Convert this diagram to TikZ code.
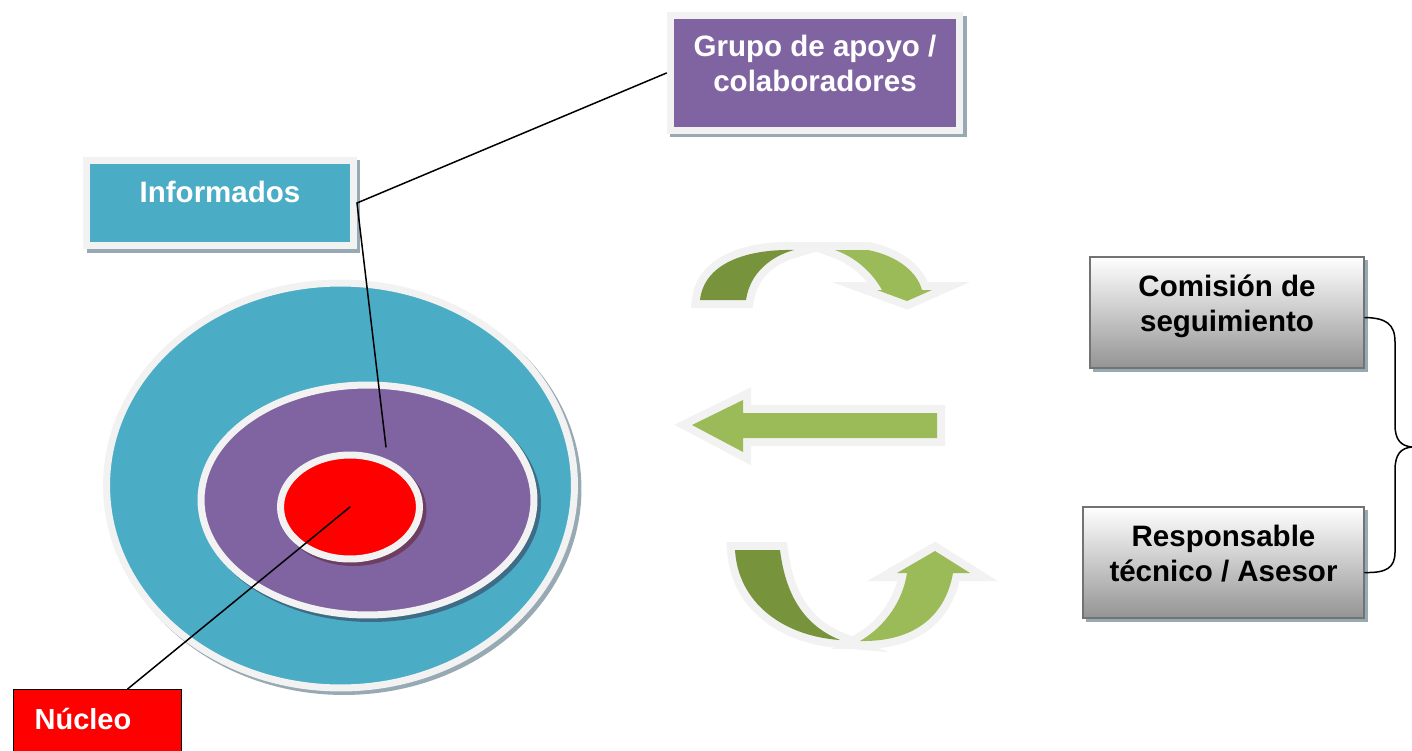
\documentclass[tikz,border=0pt]{standalone}
\usepackage{fontspec}
\setmainfont{Liberation Sans}
\usetikzlibrary{shapes.geometric}
\usetikzlibrary{positioning}
\definecolor{tealring}{HTML}{4BACC6}
\definecolor{purplering}{HTML}{8064A2}
\definecolor{darkgreen}{HTML}{77933C}
\definecolor{lightgreen}{HTML}{9BBB59}
\definecolor{framewhite}{HTML}{F2F2F2}
\definecolor{boxshadow}{HTML}{97A9B2}
\definecolor{arrowshadow}{HTML}{A4AB92}
\definecolor{tealshadow}{HTML}{3E6C86}
\definecolor{purpleshadow}{HTML}{6E3D62}
\tikzset{
  shadowed/.style={preaction={draw=#1, fill=#1, transform canvas={xshift=0.07cm, yshift=-0.07cm}}},
  ring/.style={ellipse, inner sep=0pt, draw=framewhite, line width=0.14cm},
  colbox/.style={rectangle, inner sep=0pt, draw=framewhite, line width=0.14cm, shadowed=boxshadow,
    text=white, align=center, font=\bfseries\fontsize{16.8}{19.8}\selectfont},
  greybox/.style={rectangle, inner sep=0pt, top color=white, bottom color=black!42, draw=black!55,
    line width=0.04cm, shadowed=boxshadow, align=center, font=\bfseries\fontsize{16.8}{20}\selectfont},
  ribbon/.style={fill=#1, draw=framewhite, line width=0.32cm, line join=miter, shadowed=arrowshadow,
    postaction={fill=#1}},
  leader/.style={draw=black, line width=0.03cm}
}
\begin{document}
\begin{tikzpicture}[line cap=round,x=0.02cm,y=-0.02cm]
\useasboundingbox (0,0) rectangle (1412,750);
\node[ring, fill=tealring, shadowed=boxshadow, minimum width=9.36cm, minimum height=8.1cm] (outer) at (340.5,485.5) {};
\node[ring, fill=purplering, shadowed=tealshadow, minimum width=6.66cm, minimum height=4.6cm] (middle) at (367.5,500) {};
\node[ring, fill=red, shadowed=purpleshadow, minimum width=2.78cm, minimum height=2.08cm] (core) at (350,507) {};
\node[colbox, fill=purplering, minimum width=5.8cm, minimum height=2.3cm, text depth=0.38cm] (grupo) at (815,73) {Grupo de apoyo /\\colaboradores};
\node[colbox, fill=tealring, minimum width=5.34cm, minimum height=1.72cm, text depth=0.45cm] (info) at (220,203) {Informados};
\node[rectangle, anchor=north west, fill=red, draw=black, line width=0.025cm, text=white, inner xsep=0.42cm,
  text width=2.52cm, align=left, minimum height=1.26cm, text depth=0.1cm, font=\bfseries\fontsize{16.5}{19}\selectfont] (nucleo) at (13,689) {Núcleo};
\node[greybox, minimum width=5.48cm, minimum height=2.22cm, text depth=0.36cm] (comis) at (1227,312.5) {Comisión de\\seguimiento};
\node[greybox, minimum width=5.62cm, minimum height=2.22cm, text depth=0.36cm] (resp) at (1223.5,562.5) {Responsable\\técnico / Asesor};
\coordinate (pin) at (386,447);
\coordinate (tip) at (1412,447);
\draw[leader] (grupo.west) -- (info.east) -- (pin);
\draw[leader] ([xshift=0.6cm]nucleo.north) -- (core.center);
\draw[leader] ([yshift=-0.1cm]comis.east) .. controls (1386,318) and (1395,324) .. (1395,342) -- (1395,425)
  .. controls (1395,440) and (1401,446) .. (tip) .. controls (1401,448) and (1395,454) .. (1395,470)
  -- (1395,552) .. controls (1395,568) and (1386,573) .. ([yshift=-0.2cm]resp.east);
\path[ribbon=darkgreen] (700,300) .. controls (704,264) and (745,249) .. (794,250) .. controls (772,256) and (750,272) .. (746,300) -- cycle;
\path[ribbon=lightgreen] (835,250) -- (868,250) .. controls (898,256) and (917,272) .. (922,290) -- (932,290) -- (907,301) -- (877,290) -- (882,290) .. controls (872,272) and (855,257) .. (835,250) -- cycle;
\path[ribbon=lightgreen] (692,425) -- (743,400) -- (743,413) -- (937,413) -- (937,438) -- (743,438) -- (743,452) -- cycle;
\path[ribbon=darkgreen] (735,550) -- (780,550) .. controls (786,598) and (806,626) .. (840,640) .. controls (782,636) and (738,602) .. (735,550) -- cycle;
\path[ribbon=lightgreen] (860,641) .. controls (886,626) and (903,600) .. (907,573) -- (897,573) -- (935,551) -- (970,573) -- (953,573) .. controls (945,618) and (912,642) .. (860,641) -- cycle;
\end{tikzpicture}
\end{document}
